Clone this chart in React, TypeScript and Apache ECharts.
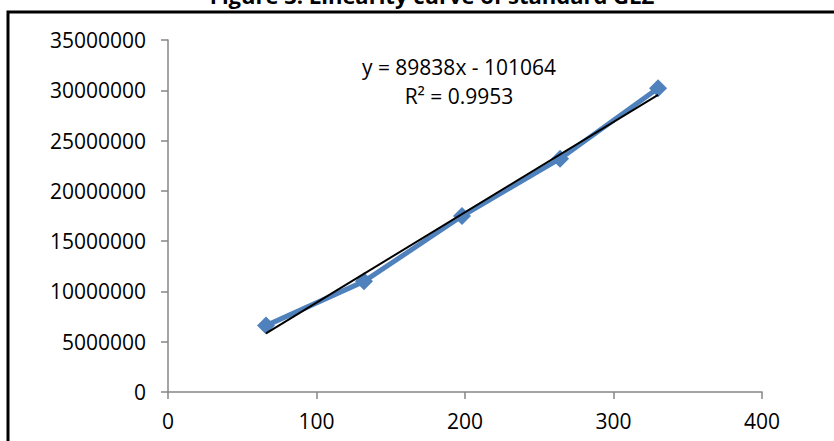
import React, { useEffect, useRef } from "react";
import * as echarts from "echarts";

const xValues = [66, 132, 198, 264, 330];
const yValues = [6600000, 11000000, 17500000, 23200000, 30200000];
const trendSlope = 89838;
const trendIntercept = -101064;
const xTicks = { min: 0, max: 400, interval: 100 };
const yTicks = { min: 0, max: 35000000, interval: 5000000 };
const titleText = "Figure 3: Linearity curve of standard GLZ";
const equationText = "y = 89838x - 101064";
const r2Text = "R² = 0.9953";

const FONT = "'Open Sans', 'Liberation Sans', sans-serif";

export default function App() {
  const ref = useRef<HTMLDivElement>(null);
  useEffect(() => {
    if (!ref.current) return;
    const chart = echarts.init(ref.current, undefined, { renderer: "svg" });
    const points = xValues.map((x, i) => [x, yValues[i]]);
    const xStart = xValues[0];
    const xEnd = xValues[xValues.length - 1];
    const trend = [
      [xStart, trendSlope * xStart + trendIntercept],
      [xEnd, trendSlope * xEnd + trendIntercept],
    ];
    const axisColor = "#868686";
    chart.setOption({
      animation: false,
      backgroundColor: "#ffffff",
      textStyle: { fontFamily: FONT },
      grid: { left: 168, top: 40, width: 594, height: 352, containLabel: false },
      xAxis: {
        type: "value",
        min: xTicks.min,
        max: xTicks.max,
        interval: xTicks.interval,
        axisLine: { show: true, lineStyle: { color: axisColor, width: 1.5 } },
        axisTick: { show: true, inside: false, length: 7, lineStyle: { color: axisColor, width: 1.5 } },
        splitLine: { show: false },
        axisLabel: { color: "#000", fontSize: 21, fontFamily: FONT, margin: 18, formatter: (v: number) => String(v) },
      },
      yAxis: {
        type: "value",
        min: yTicks.min,
        max: yTicks.max,
        interval: yTicks.interval,
        axisLine: { show: true, lineStyle: { color: axisColor, width: 1.5 } },
        axisTick: { show: true, inside: false, length: 7, lineStyle: { color: axisColor, width: 1.5 } },
        splitLine: { show: false },
        axisLabel: { color: "#000", fontSize: 21, fontFamily: FONT, margin: 22, formatter: (v: number) => String(v) },
      },
      series: [
        {
          type: "line",
          data: points,
          symbol: "diamond",
          symbolSize: 18,
          itemStyle: { color: "#4F81BD" },
          lineStyle: { color: "#4F81BD", width: 5 },
          z: 2,
        },
        {
          type: "line",
          data: trend,
          symbol: "none",
          lineStyle: { color: "#000000", width: 2 },
          z: 3,
        },
      ],
      graphic: [
        {
          type: "rect",
          shape: { x: 8, y: 12, width: 848, height: 460 },
          style: { fill: "none", stroke: "#000", lineWidth: 3 },
          z: 10,
        },
        {
          type: "text",
          x: 432,
          y: -5,
          style: {
            text: titleText,
            fontFamily: FONT,
            fontWeight: "bold",
            fontSize: 22,
            fill: "#000",
            textAlign: "center",
            textVerticalAlign: "middle",
          },
          z: 10,
        },
        {
          type: "text",
          x: 459,
          y: 67,
          style: {
            text: equationText,
            fontFamily: FONT,
            fontSize: 21,
            fill: "#000",
            textAlign: "center",
            textVerticalAlign: "middle",
          },
          z: 10,
        },
        {
          type: "text",
          x: 459,
          y: 96,
          style: {
            text: r2Text,
            fontFamily: FONT,
            fontSize: 21,
            fill: "#000",
            textAlign: "center",
            textVerticalAlign: "middle",
          },
          z: 10,
        },
      ],
    });
    return () => chart.dispose();
  }, []);
  return (
    <div
      ref={ref}
      style={{ position: "fixed", left: 0, top: 0, width: 834, height: 441 }}
    />
  );
}
